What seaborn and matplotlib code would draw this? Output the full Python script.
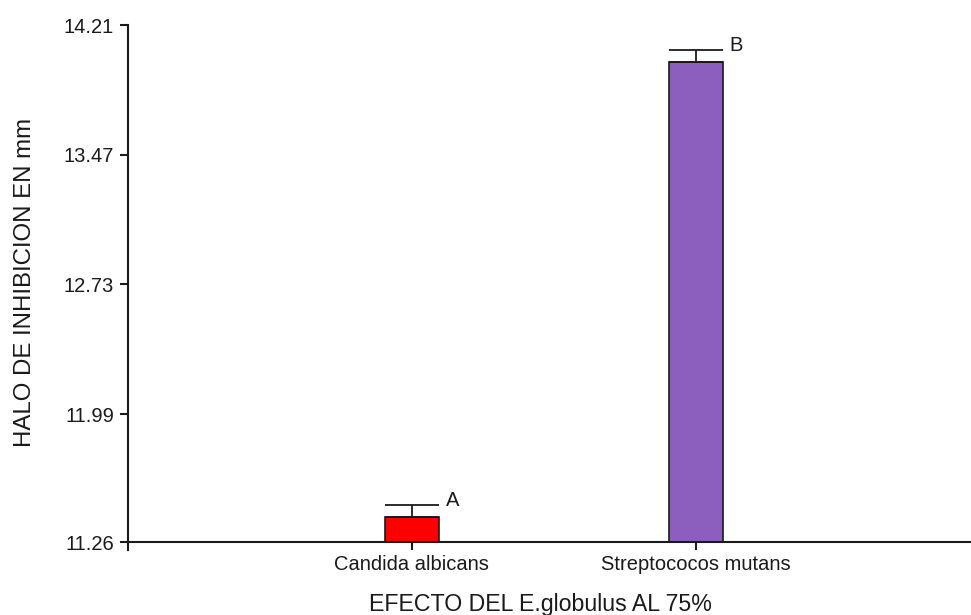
import matplotlib
matplotlib.use("Agg")
import matplotlib.pyplot as plt
import seaborn as sns
import pandas as pd

# Inhibition halo data (mm) for E. globulus at 75%
categories = ["Candida albicans", "Streptococos mutans"]
means = [11.40, 14.00]
errors = [0.07, 0.07]
letters = ["A", "B"]
colors = ["#FF0000", "#8C5FBE"]
y_ticks = [11.26, 11.99, 12.73, 13.47, 14.21]

sns.set_theme(style="white")
plt.rcParams["font.family"] = ["Liberation Sans", "DejaVu Sans"]

df = pd.DataFrame({"organismo": categories, "halo": means})

fig = plt.figure(figsize=(9.71, 6.15), dpi=100)
ax = fig.add_axes([128 / 971, 73 / 615, 843 / 971, 517 / 615])

sns.barplot(data=df, x="organismo", y="halo", hue="organismo",
            palette=colors, saturation=1, errorbar=None, width=0.19,
            legend=False, edgecolor="#1a1a1a", linewidth=1.2, ax=ax)

# upper error bars with caps as wide as the bars
xs = list(range(len(categories)))
ax.errorbar(xs, means, yerr=[[0] * len(errors), errors], fmt="none",
            ecolor="#1a1a1a", elinewidth=1.3, capsize=19.5, capthick=1.3,
            zorder=1)

for x, m, e, t in zip(xs, means, errors, letters):
    ax.text(x + 0.12, m + e + 0.025, t, ha="left", va="center",
            fontsize=14.5, color="#1a1a1a")

ax.set_xlim(-1, 1.97)
ax.set_ylim(11.26, 14.21)
ax.set_yticks(y_ticks)
ax.set_yticklabels([f"{v:.2f}" for v in y_ticks])

for side in ["top", "right"]:
    ax.spines[side].set_visible(False)
for side in ["left", "bottom"]:
    ax.spines[side].set_color("#1a1a1a")
    ax.spines[side].set_linewidth(1.5)
ax.spines["left"].set_bounds(11.26 - 0.048, 14.21)

ax.tick_params(axis="both", direction="out", length=6, width=1.5,
               color="#1a1a1a", labelcolor="#1a1a1a", labelsize=14.5)
ax.tick_params(axis="y", pad=4)
ax.tick_params(axis="x", pad=3)
ax.tick_params(left=True, bottom=True)

ax.set_xlabel("EFECTO DEL E.globulus AL 75%", fontsize=16.7, color="#1a1a1a")
ax.set_ylabel("HALO DE INHIBICION EN mm", fontsize=17.3, color="#1a1a1a")
ax.xaxis.set_label_coords(0.489, -0.12)
ax.xaxis.label.set_va("center")
ax.yaxis.set_label_coords(-0.122, 0.502)
ax.yaxis.label.set_va("center")

fig.savefig("out.png", dpi=100)
